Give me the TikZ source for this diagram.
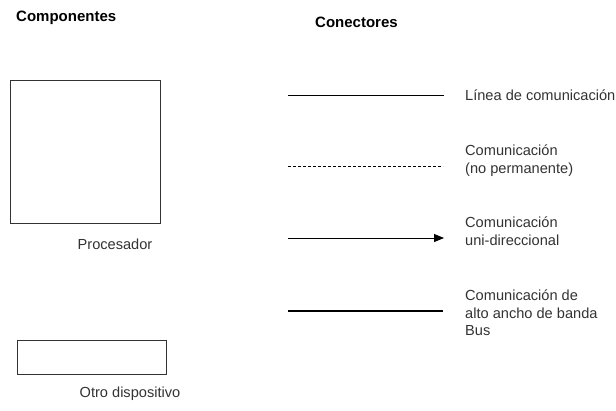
\documentclass[tikz,border=0pt]{standalone}
\usepackage{fontspec}
\setmainfont{Liberation Sans}
\usetikzlibrary{arrows.meta}
\begin{document}
\begin{tikzpicture}[x=1pt,y=-1pt,
  title/.style={font=\fontsize{15}{17}\selectfont\bfseries, anchor=west, inner sep=0pt},
  body/.style={font=\fontsize{14.6}{17.5}\selectfont, text=black!80, anchor=west, inner sep=0pt, align=left},
  comp/.style={draw=black!80, line width=0.9pt, inner sep=0pt},
  conn/.style={draw=black, line width=0.9pt}]
\useasboundingbox (0,0) rectangle (616,410);
\fill[white] (0,0) rectangle (616,410);
\node[title] (tcomp) at (16,18) {Componentes};
\node[title] (tconn) at (315,22) {Conectores};
% components
\node[comp, minimum width=150pt, minimum height=143pt] (proc) at (85,151.5) {};
\node[body, anchor=center] (lproc) at (115,244) {Procesador};
\node[comp, minimum width=149pt, minimum height=34pt] (otro) at (91.5,357) {};
\node[body, anchor=center] (lotro) at (130,394) {Otro dispositivo};
% connectors
\coordinate (a1) at (288,95);  \coordinate (b1) at (444,95);
\coordinate (a2) at (288,166); \coordinate (b2) at (443,166);
\coordinate (a3) at (288,238); \coordinate (b3) at (444,238);
\coordinate (a4) at (288,311); \coordinate (b4) at (443,311);
\draw[conn] (a1) -- (b1);
\draw[conn, dash pattern=on 3pt off 2pt] (a2) -- (b2);
\draw[conn, -{Triangle[length=10pt,width=8pt]}] (a3) -- (b3);
\draw[conn, line width=2.8pt] (a4) -- (b4);
\node[body] (l1) at (465,95) {Línea de comunicación};
\node[body] (l2) at (465,160.5) {Comunicación\\(no permanente)};
\node[body] (l3) at (465,231) {Comunicación\\uni-direccional};
\node[body] (l4) at (465,313) {Comunicación de\\alto ancho de banda\\Bus};
\end{tikzpicture}
\end{document}
